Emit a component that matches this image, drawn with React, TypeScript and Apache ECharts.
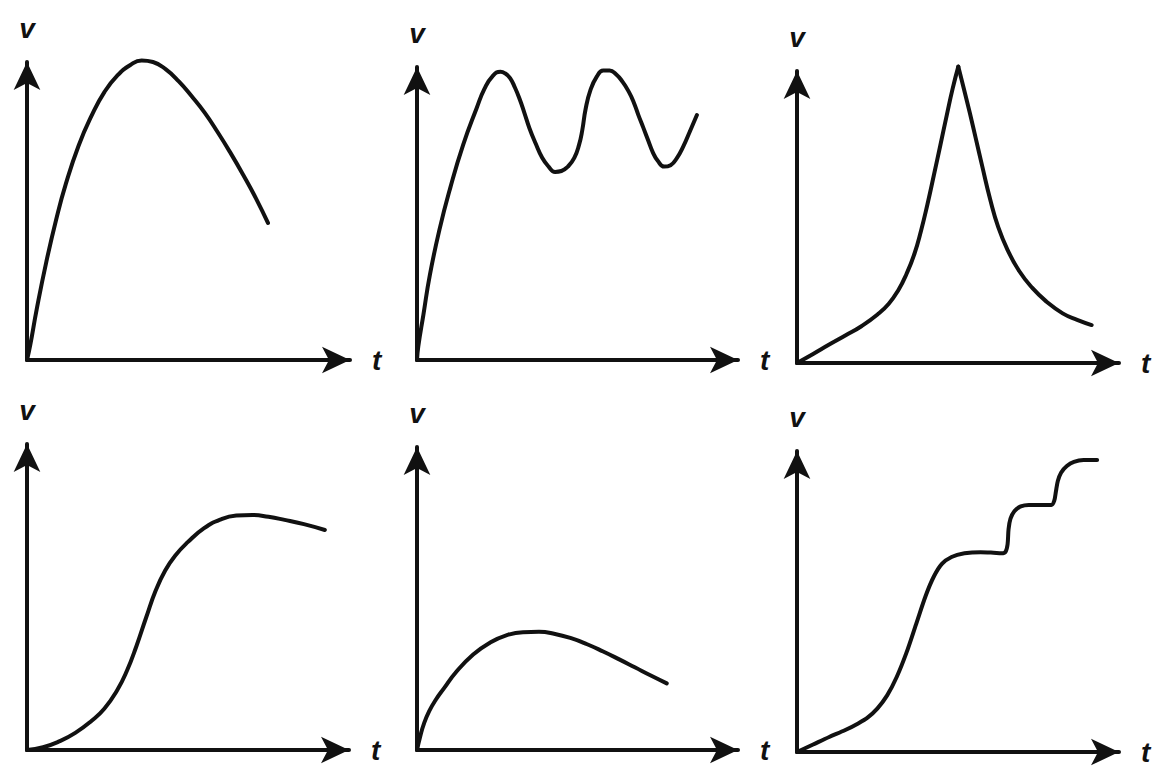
import React, { useEffect, useRef } from "react";
import * as echarts from "echarts";

// v–t curves (t and v in % of each axis length)
const curveA: number[][] = [
  [0, 0], [1, 5], [3, 17], [6, 33], [9, 47], [12, 59], [16, 72], [20, 82], [24, 90],
  [28, 95.5], [32, 99], [35.5, 100.5], [39, 100], [43, 97.5], [47, 93.5], [51, 88.5],
  [55, 83], [59, 76.5], [63, 69.5], [67, 62], [71, 54], [74.6, 46],
];
const curveB: number[][] = [
  [0, 0], [0.4, 4.6], [2, 15.5], [4, 29], [7, 44.5], [10.3, 58.5], [14.4, 73.5], [18.6, 86],
  [21, 92.5], [23.5, 96.8], [26, 98.4], [27.5, 97.8], [29, 96.2], [30.5, 93], [32, 89],
  [33.5, 84.2], [35, 79.2], [37, 73.8], [39, 69], [41, 66], [43, 64.2], [45, 64.5],
  [47, 66], [49, 69], [50.5, 73.5], [51.5, 78.5], [52.5, 85.5], [54, 92], [56, 96.7],
  [58, 98.8], [60, 98.8], [62, 97.5], [64, 95], [66, 91.5], [67.5, 88], [69, 83.5],
  [70.5, 79.3], [72, 75], [73.5, 70.8], [75, 68], [77, 66], [79, 66.5], [81, 69],
  [83, 73], [85, 78], [87.2, 83.6],
];
const curveCRise: number[][] = [
  [0, 0], [5, 3.1], [10, 6.3], [15, 9.4], [20, 12.6], [25, 16.6], [28.5, 20.3], [31.5, 25],
  [34, 30.5], [36.5, 37.5], [38.5, 45.2], [40.5, 54.3], [42.5, 64.3], [44.5, 74.5],
  [46.5, 84.8], [48.3, 93.8], [50.1, 101.5],
];
const curveCFall: number[][] = [
  [50.1, 101.5], [51.8, 94], [53.7, 85.5], [55.5, 77], [57.5, 67.5], [60, 56], [62.5, 46.5],
  [65.5, 38.5], [69, 31.5], [73, 25.8], [77.5, 21], [82.5, 17], [87, 14.8], [91.5, 13],
];
const curveD: number[][] = [
  [0, 0], [5, 0.9], [10, 2.8], [15, 5.6], [20, 9.5], [24, 13.5], [28, 19.5], [31, 25.8],
  [34, 34], [37, 43.3], [40, 52.2], [43, 58.8], [46, 63.5], [50, 68], [55, 72.5], [60, 75.3],
  [65, 76.6], [70, 76.8], [75, 76.2], [80, 75.2], [86, 73.8], [92.5, 71.9],
];
const curveE: number[][] = [
  [0, 0], [1, 4.5], [2.2, 8.8], [3.8, 12.8], [5.8, 16.5], [8.5, 20.5], [12, 25.5],
  [17.5, 31.5], [22.7, 35.4], [28, 37.9], [33, 38.9], [38, 39], [43, 38.3], [48, 36.9],
  [53, 34.9], [58, 32.5], [63, 29.9], [68, 27.2], [73, 24.5], [77.8, 22],
];
const curveF: number[][] = [
  [0, 0], [5, 2.5], [10, 5], [15, 7.3], [19, 9.5], [22, 11.5], [25, 14.5], [28, 18.8],
  [31, 25], [34, 33], [37, 42.5], [40, 52], [42.5, 58.3], [45, 62.5], [48, 64.8], [52, 66],
  [57, 66.4], [61, 66.2], [63.5, 66], [64.8, 66.6], [65.4, 69], [65.7, 74], [66.3, 77.5],
  [67.5, 80], [69.5, 81.6], [72, 82.1], [79, 82.1], [79.9, 83.5], [80.4, 86.5], [81, 90],
  [82, 92.8], [83.8, 95], [86, 96.4], [89, 97], [93.2, 97],
];

const xName = "t";
const yName = "v";

// panel frames: left, top, width, height (pixels)
const frames = [
  { left: 27, top: 62, width: 323, height: 298 },
  { left: 417, top: 67, width: 321, height: 293 },
  { left: 797, top: 71, width: 322, height: 292 },
  { left: 27, top: 444, width: 322, height: 306 },
  { left: 417, top: 447, width: 321, height: 303 },
  { left: 797, top: 451, width: 322, height: 301 },
];

const INK = "#111";

export default function App() {
  const ref = useRef<HTMLDivElement>(null);
  useEffect(() => {
    if (!ref.current) return;
    const chart = echarts.init(ref.current, null, { renderer: "svg" });
    const nameStyle = {
      color: INK,
      fontFamily: "Liberation Sans",
      fontStyle: "italic" as const,
      fontWeight: "bold" as const,
      fontSize: 28,
    };
    const axisLine = {
      show: true,
      onZero: false,
      symbol: ["none", "arrow"],
      symbolSize: [20, 28],
      lineStyle: { color: INK, width: 4 },
    };
    const grids = frames.map((f) => ({ ...f, containLabel: false }));
    const xAxes = frames.map((_, i) => ({
      type: "value",
      gridIndex: i,
      min: 0,
      max: 100,
      name: xName,
      nameLocation: "end",
      nameGap: 22,
      nameTextStyle: nameStyle,
      axisLine,
      axisTick: { show: false },
      axisLabel: { show: false },
      splitLine: { show: false },
    }));
    const yAxes = frames.map((_, i) => ({
      type: "value",
      gridIndex: i,
      min: 0,
      max: 100,
      name: yName,
      nameLocation: "end",
      nameGap: 20,
      nameTextStyle: { ...nameStyle, align: "center" },
      axisLine,
      axisTick: { show: false },
      axisLabel: { show: false },
      splitLine: { show: false },
    }));
    const curves: [number[][], number][] = [
      [curveA, 0],
      [curveB, 1],
      [curveCRise, 2],
      [curveCFall, 2],
      [curveD, 3],
      [curveE, 4],
      [curveF, 5],
    ];
    const series = curves.map(([data, idx]) => ({
      type: "line",
      xAxisIndex: idx,
      yAxisIndex: idx,
      data,
      smooth: idx === 5 ? 0.3 : 0.5,
      showSymbol: false,
      symbol: "none",
      clip: false,
      lineStyle: { color: INK, width: 4, cap: "round", join: "round" },
    }));
    chart.setOption({
      animation: false,
      backgroundColor: "#ffffff",
      grid: grids,
      xAxis: xAxes,
      yAxis: yAxes,
      series,
    });
    return () => chart.dispose();
  }, []);
  return (
    <div
      ref={ref}
      style={{ position: "absolute", left: 0, top: 0, width: 1171, height: 783, background: "#fff" }}
    />
  );
}
